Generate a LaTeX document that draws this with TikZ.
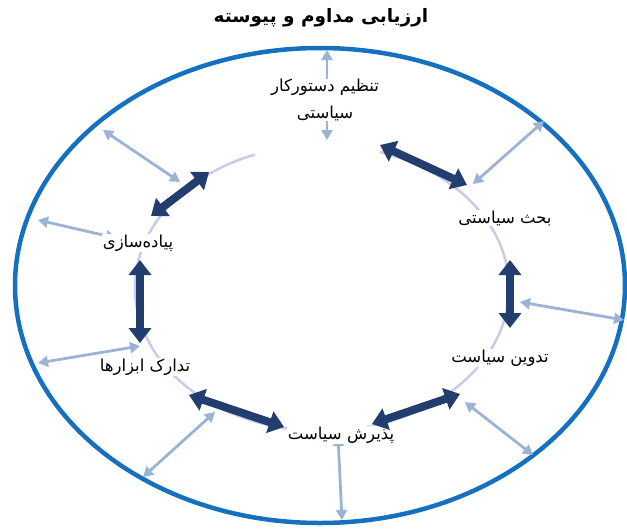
\documentclass[tikz,border=0pt]{standalone}
\usepackage{fontspec}
\newfontfamily\arabicfont[Script=Arabic]{DejaVu Sans}
\TeXXeTstate=1
\usetikzlibrary{arrows.meta}
\definecolor{ringblue}{RGB}{22,112,192}
\definecolor{navy}{RGB}{33,62,110}
\definecolor{paleblue}{RGB}{155,179,214}
\definecolor{lavender}{RGB}{200,204,230}
\newcommand{\fa}[1]{\beginR #1\endR}
\tikzset{
  dark/.style={navy, line width=8pt, {Triangle[length=15pt,width=22pt]}-{Triangle[length=15pt,width=22pt]}},
  light/.style={paleblue, line width=2.8pt, {Triangle[length=10pt,width=11pt]}-{Triangle[length=10pt,width=11pt]}},
  lbl/.style={font=\arabicfont\fontsize{16.5}{27}\selectfont, fill=white, inner sep=0.5pt, align=center}
}

\begin{document}
\begin{tikzpicture}[x=1pt,y=-1pt]
  \useasboundingbox (0,0) rectangle (627,528);
  \node[font=\arabicfont\bfseries\fontsize{18.5}{22}\selectfont] (title) at (321,18) {\fa{ارزیابی مداوم و پیوسته}};
  \draw[ringblue, line width=4.5pt] (320,285.5) ellipse [x radius=305, y radius=237.5];
  \draw[lavender, line width=2.5pt] (322,288) ++(288:187 and 143) arc [start angle=288, end angle=609, x radius=187, y radius=143];
  % light arrows, cycle to ring
  \coordinate (t1) at (327,50);   \coordinate (t2) at (327,140);
  \coordinate (tr1) at (544,121); \coordinate (tr2) at (473,184);
  \coordinate (r1) at (520,302);  \coordinate (r2) at (624,320);
  \coordinate (br1) at (465,402); \coordinate (br2) at (533,455);
  \coordinate (b1) at (338,436);  \coordinate (b2) at (342,520);
  \coordinate (bl1) at (215,412); \coordinate (bl2) at (143,477);
  \coordinate (l1) at (140,346);  \coordinate (l2) at (38,363);
  \coordinate (ml1) at (38,220);  \coordinate (ml2) at (116,238);
  \coordinate (tl1) at (103,130); \coordinate (tl2) at (180,182);
  \draw[light] (t1) -- (t2);
  \draw[light] (tr1) -- (tr2);
  \draw[light] (r1) -- (r2);
  \draw[light] (br1) -- (br2);
  \draw[light] (b1) -- (b2);
  \draw[light] (bl1) -- (bl2);
  \draw[light] (l1) -- (l2);
  \draw[light] (ml1) -- (ml2);
  \draw[light] (tl1) -- (tl2);
  % stages
  \node[lbl] (agenda) at (325,100) {\fa{تنظیم دستورکار}\\\fa{سیاستی}};
  \node[lbl] (debate) at (505,218) {\fa{بحث سیاستی}};
  \node[lbl] (draft) at (500,358) {\fa{تدوین سیاست}};
  \node[lbl] (adopt) at (341,435) {\fa{پذیرش سیاست}};
  \node[lbl] (tools) at (145,367) {\fa{تدارک ابزارها}};
  \node[lbl] (impl) at (138,243) {\fa{پیاده‌سازی}};
  % dark arrows between stages
  \coordinate (d1a) at (380,145); \coordinate (d1b) at (467,185);
  \coordinate (d2a) at (510,260); \coordinate (d2b) at (510,328);
  \coordinate (d3a) at (460,394); \coordinate (d3b) at (372,424);
  \coordinate (d4a) at (189,395); \coordinate (d4b) at (284,427);
  \coordinate (d5a) at (140,260); \coordinate (d5b) at (140,343);
  \coordinate (d6a) at (209,172); \coordinate (d6b) at (151,216);
  \draw[dark] (d1a) -- (d1b);
  \draw[dark] (d2a) -- (d2b);
  \draw[dark] (d3a) -- (d3b);
  \draw[dark] (d4a) -- (d4b);
  \draw[dark] (d5a) -- (d5b);
  \draw[dark] (d6a) -- (d6b);
\end{tikzpicture}
\end{document}
